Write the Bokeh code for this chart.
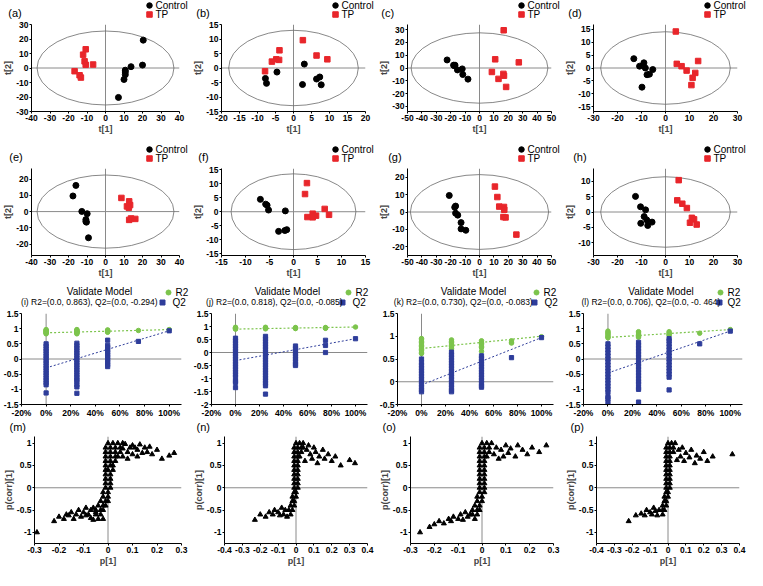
import math
from bokeh.plotting import figure
from bokeh.layouts import column, row
from bokeh.models import (Range1d, Span, Label, FixedTicker, CustomJSTickFormatter)
from bokeh.embed import file_html
from bokeh.resources import INLINE

FONT = "Liberation Sans"
RED = "#e8262b"
GREEN = "#7cc44c"
BLUE = "#2e3d9a"
GRAY = "#8a8a8a"

# ---------------- score plots (a)-(h) ----------------
a_ctrl_x = [20.4, 20.0, 13.8, 10.7, 10.7, 10.7, 10.0, 7.0]
a_ctrl_y = [19.2, 2.0, 0.9, -1.5, -2.8, -4.6, -7.9, -20.3]
a_tp_x = [-10.7, -12.1, -11.3, -10.7, -6.7, -16.7, -14.0, -13.3]
a_tp_y = [12.9, 9.2, 4.6, 2.2, 2.4, -2.2, -5.0, -6.6]

b_ctrl_x = [3.0, 6.4, 7.3, 7.7, 2.5, -4.6, -7.8, -7.5]
b_ctrl_y = [1.35, -3.8, -3.1, -5.8, -5.7, -1.4, -3.6, -5.3]
b_tp_x = [2.6, 6.4, 9.4, -3.9, -4.8, -4.0, -6.0, -7.9]
b_tp_y = [9.6, 4.3, 3.0, 6.1, 3.0, 2.8, 2.2, -1.1]

c_ctrl_x = [-22.5, -18.0, -17.0, -17.5, -15.3, -12.0, -11.6, -8.0]
c_ctrl_y = [6.3, 2.2, 2.2, 1.8, -1.5, -0.7, -5.1, -8.7]
c_tp_x = [16.8, 10.9, 27.3, 8.6, 16.6, 17.0, 13.2, 18.5]
c_tp_y = [29.5, 6.8, 4.4, -3.1, -4.6, -6.0, -8.5, -14.8]

d_ctrl_x = [-13.2, -10.8, -9.0, -8.4, -5.3, -7.7, -6.7, -9.8]
d_ctrl_y = [3.6, 0.7, 2.0, 0.0, -0.6, -2.6, -2.4, -7.4]
d_tp_x = [4.3, 4.7, 6.7, 8.8, 13.6, 12.4, 11.3, 10.8]
d_tp_y = [14.1, 1.6, 0.7, -1.0, 2.7, -1.9, -3.8, -6.6]

e_ctrl_x = [-16.0, -17.6, -12.8, -9.9, -10.6, -10.6, -10.3, -9.2]
e_ctrl_y = [16.1, 9.6, 0.1, -1.3, -4.9, -6.1, -6.5, -16.1]
e_tp_x = [8.6, 12.8, 13.3, 11.6, 12.6, 13.8, 12.8, 16.1]
e_tp_y = [8.4, 6.3, 4.0, 3.2, 2.4, -4.2, -5.1, -4.5]

f_ctrl_x = [-6.9, -5.8, -5.5, -5.2, -1.7, -3.1, -1.8, -1.4]
f_ctrl_y = [4.4, 2.7, 2.3, 0.6, 0.3, -7.0, -6.7, -6.4]
f_tp_x = [2.8, 2.4, 6.5, 4.0, 4.7, 2.9, 4.0, 7.4]
f_tp_y = [10.2, 6.3, 1.0, -0.7, -1.4, -1.9, -2.0, -1.1]

g_ctrl_x = [-21.0, -16.6, -17.2, -16.6, -15.1, -12.8, -12.8, -9.5]
g_ctrl_y = [9.5, 3.4, 2.7, -0.7, -1.8, -6.1, -9.7, -10.5]
g_tp_x = [10.7, 12.4, 13.7, 17.0, 17.2, 16.6, 18.1, 25.6]
g_tp_y = [14.6, 8.6, 3.1, 2.9, 1.3, -2.9, -3.1, -13.0]

h_ctrl_x = [-12.5, -10.4, -8.3, -8.9, -7.8, -5.6, -10.3, -7.4]
h_ctrl_y = [5.1, 1.7, 0.7, -1.5, -2.6, -3.3, -3.7, -4.4]
h_tp_x = [5.5, 4.9, 7.0, 8.9, 11.0, 11.9, 10.2, 13.0]
h_tp_y = [10.4, 3.8, 2.7, 1.3, -1.9, -2.4, -3.5, -4.1]

score_tags = ["(a)", "(b)", "(c)", "(d)", "(e)", "(f)", "(g)", "(h)"]
score_xr = [(-40, 40), (-20, 20), (-50, 50), (-30, 30), (-40, 40), (-15, 15), (-50, 50), (-30, 30)]
score_yr = [(-30, 30), (-15, 15), (-34, 34), (-16.8, 16.8), (-27, 26.5), (-15.6, 15.4), (-25, 25), (-14.2, 14.2)]
score_xstep = [10, 5, 10, 10, 10, 5, 10, 10]
score_yticks = [[-30, -20, -10, 0, 10, 20, 30], [-15, -10, -5, 0, 5, 10, 15],
                [-30, -20, -10, 0, 10, 20, 30], [-15, -10, -5, 0, 5, 10, 15],
                [-20, -10, 0, 10, 20], [-15, -10, -5, 0, 5, 10, 15],
                [-20, -10, 0, 10, 20], [-10, -5, 0, 5, 10]]
ellipse_a = [37, 18, 47.5, 27, 37, 13, 48, 27]
ellipse_b = [25.5, 13, 27.5, 14, 22.5, 13.5, 21.5, 11.5]
score_data = [(a_ctrl_x, a_ctrl_y, a_tp_x, a_tp_y), (b_ctrl_x, b_ctrl_y, b_tp_x, b_tp_y),
              (c_ctrl_x, c_ctrl_y, c_tp_x, c_tp_y), (d_ctrl_x, d_ctrl_y, d_tp_x, d_tp_y),
              (e_ctrl_x, e_ctrl_y, e_tp_x, e_tp_y), (f_ctrl_x, f_ctrl_y, f_tp_x, f_tp_y),
              (g_ctrl_x, g_ctrl_y, g_tp_x, g_tp_y), (h_ctrl_x, h_ctrl_y, h_tp_x, h_tp_y)]
group_labels = ["Control", "TP"]

# ---------------- permutation (validate model) plots (i)-(l) ----------------
perm_x = [0, 25, 50, 75, 100]
i_r2 = [[0.97, 0.95, 0.93, 0.91, 0.89, 0.87, 0.85, 0.83],
        [0.97, 0.95, 0.93, 0.91, 0.89, 0.87, 0.85, 0.83],
        [0.96, 0.94, 0.92, 0.9, 0.88], [0.94], [0.97]]
i_q2 = [[0.5, 0.42, 0.34, 0.26, 0.18, 0.1, 0.02, -0.06, -0.14, -0.22, -0.3, -0.38, -0.46, -0.54, -0.62, -0.7, -0.78, -0.85, -1.12],
        [0.52, 0.44, 0.36, 0.28, 0.2, 0.12, 0.04, -0.04, -0.12, -0.2, -0.28, -0.36, -0.44, -0.52, -0.6, -0.68, -0.74, -0.85, -0.92, -1.13],
        [0.62, 0.45, 0.38, 0.3, 0.22, 0.14, 0.06, -0.02, -0.1, -0.18, -0.25], [0.58], [0.93]]
i_r2_line = [0.863, 0.97]
i_q2_line = [-0.294, 0.93]

j_r2 = [[0.97, 0.95, 0.93, 0.91, 0.9], [0.97, 0.95, 0.93, 0.91], [0.96, 0.94, 0.92], [0.96, 0.94, 0.93], [0.98]]
j_q2 = [[0.55, 0.45, 0.35, 0.25, 0.15, 0.05, -0.05, -0.15, -0.25, -0.35, -0.45, -0.55, -0.65, -0.75, -0.85, -0.95, -1.1, -1.15, -1.35],
        [0.62, 0.52, 0.42, 0.32, 0.22, 0.12, 0.02, -0.08, -0.18, -0.28, -0.38, -0.48, -0.58, -0.68, -0.78, -0.88, -0.98, -1.08, -1.18, -1.28, -1.6],
        [0.25, 0.15, 0.05, -0.05, -0.15, -0.25, -0.35, -0.45, -0.5], [0.47, 0.27, 0.0], [0.53]]
j_r2_line = [0.9, 0.98]
j_q2_line = [-0.31, 0.53]

k_r2 = [[0.95, 0.92, 0.89, 0.86, 0.83, 0.8, 0.77, 0.74, 0.71, 0.68, 0.65, 0.62],
        [0.92, 0.89, 0.86, 0.83, 0.8, 0.77, 0.74, 0.72],
        [0.9, 0.87, 0.84, 0.81, 0.78, 0.75, 0.67], [0.9, 0.87, 0.85], [0.99]]
k_q2 = [[0.5, 0.42, 0.36, 0.3, 0.24, 0.18, 0.12, 0.06, 0.0, -0.06, -0.12, -0.18, -0.22],
        [0.65, 0.59, 0.53, 0.47, 0.41, 0.35, 0.29, 0.23, 0.17, 0.11, 0.05, -0.01, -0.07, -0.13, -0.19, -0.22],
        [0.57, 0.51, 0.45, 0.39, 0.33, 0.27, 0.21, 0.15, 0.09, 0.03, -0.03, -0.09, -0.12], [0.53], [0.97]]
k_r2_line = [0.73, 1.0]
k_q2_line = [-0.07, 0.97]

l_r2 = [[0.92, 0.88, 0.84, 0.8, 0.76, 0.72, 0.7], [0.9, 0.86, 0.82, 0.78, 0.74, 0.72],
        [0.9, 0.86, 0.82, 0.78], [0.85], [0.97]]
l_q2 = [[0.5, 0.4, 0.3, 0.2, 0.1, 0.0, -0.1, -0.2, -0.3, -0.4, -0.5, -0.6, -0.7, -0.8, -0.9, -1.0, -1.1, -1.25, -1.3, -1.42],
        [0.55, 0.45, 0.35, 0.25, 0.15, 0.05, -0.05, -0.15, -0.25, -0.35, -0.45, -0.55, -0.65, -0.75, -0.82, -0.95, -1.0, -1.42],
        [0.67, 0.6, 0.5, 0.4, 0.3, 0.2, 0.1, 0.0, -0.1, -0.2, -0.3, -0.4, -0.5, -0.6, -1.02], [0.5], [0.92]]
l_r2_line = [0.71, 0.97]
l_q2_line = [-0.46, 0.92]

perm_titles = ["(i)  R2=(0.0, 0.863), Q2=(0.0, -0.294)",
               "(j)  R2=(0.0, 0.818), Q2=(0.0, -0.085)",
               "(k) R2=(0.0, 0.730), Q2=(0.0, -0.083)",
               "(l) R2=(0.0, 0.706), Q2=(0.0, -0. 464)"]
perm_yr = [(-1.5, 1.5), (-2, 1.5), (-0.5, 1.5), (-1.5, 1.5)]
perm_yticks = [[-1.5, -1, -0.5, 0, 0.5, 1, 1.5], [-2, -1.5, -1, -0.5, 0, 0.5, 1, 1.5],
               [-0.5, 0, 0.5, 1, 1.5], [-1.5, -1, -0.5, 0, 0.5, 1, 1.5]]
perm_xticks = [-20, 0, 20, 40, 60, 80, 100]
perm_data = [(i_r2, i_q2, i_r2_line, i_q2_line), (j_r2, j_q2, j_r2_line, j_q2_line),
             (k_r2, k_q2, k_r2_line, k_q2_line), (l_r2, l_q2, l_r2_line, l_q2_line)]
perm_labels = ["R2", "Q2"]

# ---------------- S-plots (m)-(p): p[1] vs p(corr)[1] ----------------
m_x = [0.27, 0.25, 0.22, 0.2, 0.18, 0.17, 0.16, 0.15, 0.14, 0.13, 0.12, 0.12, 0.11, 0.1, 0.1, 0.09, 0.08, 0.08, 0.07, 0.06, 0.06,
       -0.29, -0.22, -0.2, -0.18, -0.17, -0.16, -0.15, -0.14, -0.13, -0.12, -0.11, -0.1, -0.09, -0.09, -0.08, -0.07, -0.07, -0.06, -0.06, -0.05]
m_y = [0.78, 0.72, 0.65, 0.85, 0.75, 0.92, 0.8, 0.9, 0.78, 0.97, 0.85, 0.7, 0.9, 0.95, 0.75, 0.9, 0.8, 0.65, 0.98, 0.7, 0.88,
       -1.0, -0.75, -0.65, -0.7, -0.6, -0.62, -0.55, -0.7, -0.6, -0.5, -0.65, -0.55, -0.45, -0.62, -0.6, -0.5, -0.68, -0.45, -0.72, -0.55]
m_core = [(1.0, [0.0, 0.02, 0.04, 0.06]), (0.9, [-0.01, 0.01, 0.03, 0.05]), (0.8, [-0.01, 0.01, 0.03, 0.05]),
          (0.7, [-0.01, 0.01, 0.03, 0.04]), (0.6, [-0.01, 0.01, 0.03]), (0.5, [-0.01, 0.01, 0.02]),
          (0.4, [-0.01, 0.0, 0.02]), (0.3, [-0.01, 0.01]), (0.2, [-0.01, 0.01]), (0.1, [-0.01, 0.01]),
          (0.0, [-0.01, 0.01]), (-0.1, [-0.02, 0.0]), (-0.2, [-0.02, 0.0]), (-0.3, [-0.03, -0.01, 0.0]),
          (-0.4, [-0.04, -0.02, -0.01]), (-0.5, [-0.05, -0.03, -0.02]), (-0.6, [-0.05, -0.03]), (-0.7, [-0.04, -0.02])]

n_x = [0.33, 0.3, 0.25, 0.22, 0.2, 0.18, 0.16, 0.15, 0.13, 0.12, 0.11, 0.1, 0.09, 0.08, 0.07, 0.06, 0.05,
       -0.23, -0.2, -0.17, -0.15, -0.13, -0.12, -0.1, -0.09, -0.08, -0.07, -0.06, -0.05]
n_y = [0.55, 0.62, 0.5, 0.7, 0.6, 0.75, 0.65, 0.85, 0.7, 0.55, 0.8, 0.9, 0.65, 0.75, 0.95, 0.85, 0.6,
       -0.72, -0.6, -0.65, -0.55, -0.6, -0.5, -0.55, -0.62, -0.45, -0.6, -0.5, -0.65]
n_core = [(1.0, [0.0, 0.02, 0.04]), (0.9, [-0.01, 0.01, 0.03, 0.04]), (0.8, [-0.01, 0.01, 0.03]),
          (0.7, [-0.01, 0.01, 0.02]), (0.6, [-0.01, 0.01]), (0.5, [-0.01, 0.01]), (0.4, [-0.01, 0.01]),
          (0.3, [-0.01, 0.01]), (0.2, [-0.01, 0.01]), (0.1, [-0.01, 0.01]), (0.0, [-0.01, 0.01]),
          (-0.1, [-0.01, 0.0]), (-0.2, [-0.02, 0.0]), (-0.3, [-0.02, -0.01]), (-0.4, [-0.03, -0.01]),
          (-0.5, [-0.04, -0.02]), (-0.6, [-0.03])]

o_x = [0.27, 0.24, 0.21, 0.19, 0.17, 0.15, 0.14, 0.12, 0.11, 0.1, 0.09, 0.08, 0.07, 0.06, 0.05,
       -0.26, -0.22, -0.2, -0.18, -0.16, -0.14, -0.13, -0.12, -0.1, -0.09, -0.08, -0.07, -0.06, -0.05]
o_y = [0.95, 0.8, 0.9, 0.75, 0.85, 0.95, 0.7, 0.88, 0.78, 0.95, 0.7, 0.85, 0.65, 0.9, 0.75,
       -1.0, -0.88, -0.82, -0.75, -0.8, -0.7, -0.75, -0.65, -0.7, -0.6, -0.72, -0.55, -0.65, -0.6]
o_core = [(1.0, [0.0, 0.02, 0.04]), (0.9, [-0.01, 0.01, 0.03]), (0.8, [-0.01, 0.01, 0.03]),
          (0.7, [-0.01, 0.01, 0.02]), (0.6, [-0.01, 0.01]), (0.5, [-0.01, 0.01]), (0.4, [-0.01, 0.01]),
          (0.3, [-0.01, 0.01]), (0.2, [-0.01, 0.01]), (0.1, [-0.01, 0.01]), (0.0, [-0.01, 0.01]),
          (-0.1, [-0.01, 0.01]), (-0.2, [-0.02, 0.0]), (-0.3, [-0.02, 0.0]), (-0.4, [-0.03, -0.01]),
          (-0.5, [-0.04, -0.02, -0.01]), (-0.6, [-0.04, -0.02]), (-0.7, [-0.03])]

p_x = [0.36, 0.25, 0.22, 0.2, 0.18, 0.16, 0.15, 0.13, 0.12, 0.1, 0.09, 0.08, 0.07, 0.06, 0.05,
       -0.22, -0.18, -0.15, -0.13, -0.12, -0.1, -0.09, -0.08, -0.07, -0.06, -0.05]
p_y = [0.75, 0.7, 0.6, 0.8, 0.65, 0.72, 0.55, 0.85, 0.68, 0.78, 0.6, 0.9, 0.7, 0.85, 0.62,
       -0.75, -0.62, -0.58, -0.62, -0.5, -0.55, -0.6, -0.45, -0.52, -0.62, -0.5]
p_core = [(1.0, [0.0, 0.02, 0.04]), (0.9, [-0.01, 0.01, 0.03]), (0.8, [-0.01, 0.01, 0.03]),
          (0.7, [-0.01, 0.01]), (0.6, [-0.01, 0.01]), (0.5, [-0.01, 0.01]), (0.4, [-0.01, 0.01]),
          (0.3, [-0.01, 0.01]), (0.2, [-0.01, 0.01]), (0.1, [-0.01, 0.01]), (0.0, [-0.01, 0.01]),
          (-0.1, [-0.01, 0.0]), (-0.2, [-0.02, 0.0]), (-0.3, [-0.02, -0.01]), (-0.4, [-0.03, -0.01]),
          (-0.5, [-0.03, -0.02]), (-0.6, [-0.03])]

s_tags = ["(m)", "(n)", "(o)", "(p)"]
s_xr = [(-0.3, 0.3), (-0.4, 0.4), (-0.3, 0.3), (-0.4, 0.4)]
s_yr = (-1.25, 1.15)
s_xticks = [[-0.3, -0.2, -0.1, 0, 0.1, 0.2, 0.3], [-0.4, -0.3, -0.2, -0.1, 0, 0.1, 0.2, 0.3, 0.4],
            [-0.3, -0.2, -0.1, 0, 0.1, 0.2, 0.3], [-0.4, -0.3, -0.2, -0.1, 0, 0.1, 0.2, 0.3, 0.4]]
s_yticks = [-1, -0.5, 0, 0.5, 1]
s_data = [(m_x, m_y, m_core), (n_x, n_y, n_core), (o_x, o_y, o_core), (p_x, p_y, p_core)]

# ---------------- layout (pixels) ----------------
TOTAL_W = 747
COL_W = [190, 186, 186, 185]
COL_X0 = [0, 190, 376, 562]
HEAD_H = [19, 27, 28, 13]          # header strips above each row
ROW_TB = [(5, 90, 22), (5, 91, 21), (5, 96, 11), (3, 107, 27)]   # top, frame, bottom
TAG_X = [7.8, 195.8, 380.8, 567.8, 8.8, 197.8, 387.7, 572.7]
SUB_X = [20.6, 205.6, 393.3, 581.0]
S_TAG_X = [9.0, 196.0, 382.0, 570.0]

NUMFMT = CustomJSTickFormatter(code="return String(Math.round(tick*1000)/1000);")
PCTFMT = CustomJSTickFormatter(code="return String(Math.round(tick)) + '%';")


def make_fig(w, top, fh, bottom, left, right, xr, yr):
    p = figure(width=w, height=top + fh + bottom, x_range=Range1d(*xr), y_range=Range1d(*yr),
               output_backend="svg", toolbar_location=None,
               min_border_left=left, min_border_right=right,
               min_border_top=top, min_border_bottom=bottom)
    p.xgrid.visible = False
    p.ygrid.visible = False
    p.outline_line_color = None
    for ax in list(p.xaxis) + list(p.yaxis):
        ax.major_label_text_font = FONT
        ax.major_label_text_font_style = "bold"
        ax.major_label_text_font_size = "8.5px"
        ax.major_label_text_color = "black"
        ax.major_label_standoff = 1
        ax.major_tick_out = 2
        ax.major_tick_in = 0
        ax.minor_tick_out = 0
        ax.minor_tick_in = 0
        ax.axis_line_color = "black"
        ax.major_tick_line_color = "black"
        ax.axis_label_text_font = FONT
        ax.axis_label_text_font_style = "bold"
        ax.axis_label_text_font_size = "9px"
        ax.axis_label_standoff = 0
    p.add_layout(Span(location=0, dimension="height", line_color=GRAY, line_width=1, level="underlay"))
    p.add_layout(Span(location=0, dimension="width", line_color=GRAY, line_width=1, level="underlay"))
    return p


def make_header(h):
    p = figure(width=TOTAL_W, height=h, x_range=Range1d(0, TOTAL_W), y_range=Range1d(0, h),
               output_backend="svg", toolbar_location=None, x_axis_type=None, y_axis_type=None,
               min_border_left=0, min_border_right=0, min_border_top=0, min_border_bottom=0)
    p.grid.visible = False
    p.outline_line_color = None
    return p


def htext(p, text, x, y, size="10px", align="left"):
    p.add_layout(Label(x=x, y=y, text=text, text_font=FONT, text_font_size=size,
                       text_align=align, text_baseline="middle", text_color="black"))


rows = []

# ----- score rows -----
score_lr = [(25, 11), (25, 11), (25, 11), (25, 10)]
for r in range(2):
    top, fh, bottom = ROW_TB[r]
    hh = HEAD_H[r]
    head = make_header(hh)
    row_figs = []
    for c in range(4):
        k = r * 4 + c
        left, right = score_lr[c]
        w = COL_W[c]
        p = make_fig(w, top, fh, bottom, left, right, score_xr[k], score_yr[k])
        x0, x1 = score_xr[k]
        p.xaxis.ticker = FixedTicker(ticks=list(range(x0, x1 + 1, score_xstep[k])))
        p.yaxis.ticker = FixedTicker(ticks=score_yticks[k])
        p.xaxis.formatter = NUMFMT
        p.yaxis.formatter = NUMFMT
        p.xaxis.axis_label = "t[1]"
        p.yaxis.axis_label = "t[2]"
        p.ellipse(x=[0], y=[0], width=[2 * ellipse_a[k]], height=[2 * ellipse_b[k]],
                  fill_color=None, line_color="#6a6a6a", line_width=0.8)
        cx, cy, tx, ty = score_data[k]
        p.scatter(cx, cy, marker="circle", size=6, fill_color="black", line_color="black")
        p.scatter(tx, ty, marker="square", size=5.5, fill_color=RED, line_color=RED)
        row_figs.append(p)
        # header: panel tag + legend (y measured up from header bottom; frame top is at -top)
        fr = COL_X0[c] + w - right
        y_ctrl = 19 - top
        y_tp = 10 - top
        htext(head, score_tags[k], TAG_X[k], 11.8 - top, size="11px")
        head.scatter([fr - 30], [y_ctrl], marker="circle", size=5.5, fill_color="black", line_color="black")
        head.scatter([fr - 30], [y_tp], marker="square", size=5.5, fill_color=RED, line_color=RED)
        htext(head, group_labels[0], fr - 24, y_ctrl)
        htext(head, group_labels[1], fr - 24, y_tp)
    rows.append(head)
    rows.append(row(*row_figs, spacing=0))

# ----- permutation row -----
perm_lr = [(17, 9), (17, 9), (17, 9), (17, 5)]
leg_r2_dx = [(-13, -6), (-19, -12), (-17, -10), (-22, -15)]
leg_q2_dx = [(-19, -9), (-25, -15), (-19, -9), (-23, -15)]
top, fh, bottom = ROW_TB[2]
hh = HEAD_H[2]
head = make_header(hh)
row_figs = []
for c in range(4):
    left, right = perm_lr[c]
    w = COL_W[c]
    p = make_fig(w, top, fh, bottom, left, right, (-20, 110), perm_yr[c])
    p.xaxis.ticker = FixedTicker(ticks=perm_xticks)
    p.xaxis.formatter = PCTFMT
    p.yaxis.ticker = FixedTicker(ticks=perm_yticks[c])
    p.yaxis.formatter = NUMFMT
    r2cols, q2cols, r2line, q2line = perm_data[c]
    p.line(x=[perm_x[0], perm_x[-1]], y=r2line, line_color=GREEN, line_dash="2 2", line_width=1.2)
    p.line(x=[perm_x[0], perm_x[-1]], y=q2line, line_color=BLUE, line_dash="2 2", line_width=1.0)
    rx, ry, qx, qy = [], [], [], []
    for xv, ys in zip(perm_x, r2cols):
        rx += [xv] * len(ys)
        ry += ys
    for xv, ys in zip(perm_x, q2cols):
        qx += [xv] * len(ys)
        qy += ys
    p.scatter(rx, ry, marker="circle", size=4.5, fill_color=GREEN, line_color=GREEN)
    p.scatter(qx, qy, marker="square", size=4.2, fill_color=BLUE, line_color=BLUE)
    row_figs.append(p)
    fl = COL_X0[c] + left
    fr = COL_X0[c] + w - right
    fw = fr - fl
    htext(head, "Validate Model", fl + fw / 2, 22.5 - top, size="10px", align="center")
    htext(head, perm_titles[c], SUB_X[c], 11.5 - top, size="8.5px")
    head.scatter([fr + leg_r2_dx[c][0]], [21 - top], marker="circle", size=5, fill_color=GREEN, line_color=GREEN)
    head.scatter([fr + leg_q2_dx[c][0]], [11 - top], marker="square", size=5, fill_color=BLUE, line_color=BLUE)
    htext(head, perm_labels[0], fr + leg_r2_dx[c][1], 21 - top)
    htext(head, perm_labels[1], fr + leg_q2_dx[c][1], 11 - top)
rows.append(head)
rows.append(row(*row_figs, spacing=0))

# ----- S-plot row -----
s_lr = [(26, 9), (26, 9), (26, 9), (26, 8)]
top, fh, bottom = ROW_TB[3]
hh = HEAD_H[3]
head = make_header(hh)
row_figs = []
for c in range(4):
    left, right = s_lr[c]
    w = COL_W[c]
    p = make_fig(w, top, fh, bottom, left, right, s_xr[c], s_yr)
    p.xaxis.ticker = FixedTicker(ticks=s_xticks[c])
    p.yaxis.ticker = FixedTicker(ticks=s_yticks)
    p.xaxis.formatter = NUMFMT
    p.yaxis.formatter = NUMFMT
    p.xaxis.axis_label = "p[1]"
    p.yaxis.axis_label = "p(corr)[1]"
    sx, sy, core = s_data[c]
    xs, ys = list(sx), list(sy)
    for yv, xrow in core:
        xs += xrow
        ys += [yv] * len(xrow)
    p.scatter(xs, ys, marker="triangle", size=5, fill_color="black", line_color="black")
    row_figs.append(p)
    htext(head, s_tags[c], S_TAG_X[c], 10 - top, size="11px")
rows.append(head)
rows.append(row(*row_figs, spacing=0))

layout = column(*rows, spacing=0)
open("out.html", "w").write(file_html(layout, INLINE))
